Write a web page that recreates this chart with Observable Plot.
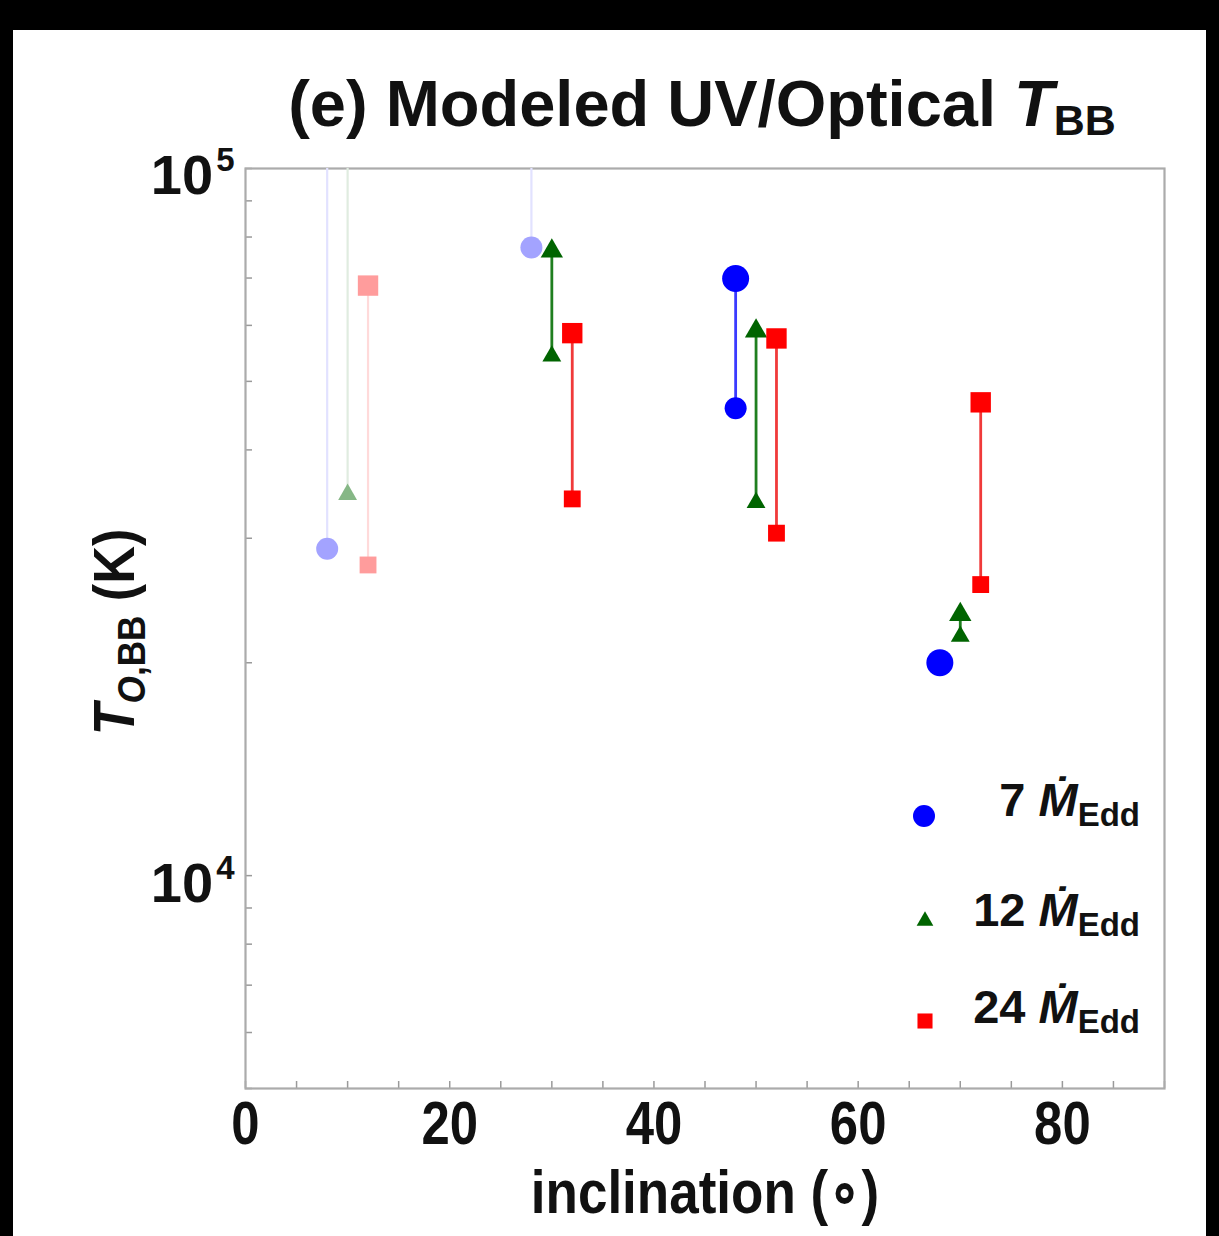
<!DOCTYPE html>
<html>
<head>
<meta charset="utf-8">
<script src="https://cdn.jsdelivr.net/npm/d3@7"></script>
<script src="https://cdn.jsdelivr.net/npm/@observablehq/plot@0.6"></script>
<style>
  html, body { margin: 0; padding: 0; background: #000; }
  body { width: 1219px; height: 1236px; overflow: hidden; position: relative;
         font-family: "Liberation Sans", Arial, Helvetica, sans-serif; }
  #panel { position: absolute; left: 13px; top: 30px; width: 1193px; height: 1206px; background: #fff; }
  #title { position: absolute; left: 689px; top: 41px; transform: translateX(-50%);
           white-space: nowrap; font-size: 65px; font-weight: bold; line-height: 65px; color: #111; }
  #title i { font-style: italic; }
  #title sub { font-size: 43px; vertical-align: -9px; line-height: 0; }
  #chart { position: absolute; left: 0; top: 90px; }
</style>
</head>
<body>
<div id="panel">
  <div id="title">(e) Modeled UV/Optical <i>T</i><sub>BB</sub></div>
  <div id="chart"></div>
</div>
<script>
// ---- axis ticks ----
const xMajor = [0, 20, 40, 60, 80];
const xMinor = [0, 5, 10, 15, 20, 25, 30, 35, 40, 45, 50, 55, 60, 65, 70, 75, 80, 85, 90];
const yDecades = [10000, 100000];
const yDecadeExp = ["4", "5"];
const yMinor = [5000, 6000, 7000, 8000, 9000, 10000, 20000, 30000, 40000, 50000,
                60000, 70000, 80000, 90000, 100000];
const xDomain = [0, 90];
const yDomain = [5000, 100000];

// ---- modeled T_BB (K) per accretion rate ----
// low / high ends of each model range; open = range continues above 10^5 K;
// faded = model drawn in a lighter shade
const incl7   = [8, 28, 48, 68];
const low7    = [29000, 77300, 45800, 20000];
const high7   = [null, null, 69900, 20000];
const open7   = [true, true, false, false];
const faded7  = [true, true, false, false];

const incl12  = [10, 30, 50, 70];
const low12   = [34600, 54300, 33700, 21800];
const high12  = [null, 76400, 58900, 23400];
const open12  = [true, false, false, false];
const faded12 = [true, false, false, false];

const incl24  = [12, 32, 52, 72];
const low24   = [27500, 34100, 30500, 25800];
const high24  = [68300, 58500, 57500, 46700];
const open24  = [false, false, false, false];
const faded24 = [true, false, false, false];

const seriesNames = ["7", "12", "24"];

// ---- styles ----
const styles = {
  "7":  {symbol: "circle",   color: "#0000ff", line: "#3b3bff", fadedFill: "#a3a3ff", fadedLine: "#e2e2ff", rLow: 11,  rHigh: 13.5},
  "12": {symbol: "triangle", color: "#006400", line: "#1f7f1f", fadedFill: "#86b786", fadedLine: "#e0ece0", rLow: 7,   rHigh: 8.3},
  "24": {symbol: "square",   color: "#ff0000", line: "#f03a3a", fadedFill: "#ff9c9c", fadedLine: "#ffdada", rLow: 9.5, rHigh: 11.5}
};

function build(key, incl, low, high, open, faded) {
  return incl.map((x, i) => ({key, incl: x, low: low[i], high: high[i], open: open[i], faded: faded[i]}));
}
const rows = [
  ...build("7", incl7, low7, high7, open7, faded7),
  ...build("12", incl12, low12, high12, open12, faded12),
  ...build("24", incl24, low24, high24, open24, faded24)
];

const W = 1193, H = 1116;
const mL = 232, mR = 42, mT = 48, mB = 148;
const frameW = W - mL - mR, frameH = H - mT - mB;
const FONT = "'Liberation Sans', Arial, Helvetica, sans-serif";

const marks = [];
// frame ticks (inward)
marks.push(Plot.tickX(xMinor, {x: d => d, insetTop: frameH - 7, stroke: "#9a9a9a", strokeWidth: 1.5}));
marks.push(Plot.tickY(yMinor, {y: d => d, insetRight: frameW - 7, stroke: "#9a9a9a", strokeWidth: 1.5}));
marks.push(Plot.frame({stroke: "#ababab", strokeWidth: 2.2}));

// range lines
for (const key of seriesNames) {
  const st = styles[key];
  const sr = rows.filter(d => d.key === key);
  const y2 = d => d.open ? yDomain[1] : (d.high ?? d.low);
  marks.push(Plot.ruleX(sr.filter(d => d.faded), {x: "incl", y1: "low", y2, stroke: st.fadedLine, strokeWidth: 2.2}));
  marks.push(Plot.ruleX(sr.filter(d => !d.faded), {x: "incl", y1: "low", y2, stroke: st.line, strokeWidth: 2.8}));
}
// markers
for (const key of seriesNames) {
  const st = styles[key];
  const sr = rows.filter(d => d.key === key);
  marks.push(Plot.dot(sr, {x: "incl", y: "low", symbol: st.symbol, r: st.rLow,
    fill: d => d.faded ? st.fadedFill : st.color, stroke: "none"}));
  marks.push(Plot.dot(sr.filter(d => d.high != null), {x: "incl", y: "high", symbol: st.symbol, r: st.rHigh,
    fill: d => d.faded ? st.fadedFill : st.color, stroke: "none"}));
}

// text marks, in this order: x ticks, y decade labels, x title
marks.push(Plot.text(xMajor, {x: d => d, frameAnchor: "bottom", dy: 55, text: d => String(d),
  fontSize: 62, fontWeight: "bold", fill: "#111"}));
marks.push(Plot.text(yDecades, {y: d => d, frameAnchor: "left", dx: -11, dy: 8, textAnchor: "end",
  text: () => "10", fontSize: 56, fontWeight: "bold", fill: "#111"}));
marks.push(Plot.text(["inclination (\u2218)"], {frameAnchor: "bottom", dy: 124, text: d => d,
  fontSize: 62, fontWeight: "bold", fill: "#111"}));

const svg = Plot.plot({
  width: W, height: H,
  marginLeft: mL, marginRight: mR, marginTop: mT, marginBottom: mB,
  x: {domain: xDomain, axis: null},
  y: {type: "log", domain: yDomain, axis: null},
  style: {fontFamily: FONT, background: "transparent", overflow: "visible"},
  marks
});
document.getElementById("chart").appendChild(svg);

const root = d3.select(svg);
const textGroups = root.selectAll("g[aria-label='text']").nodes();

// decade exponents as superscripts of the "10" labels
d3.select(textGroups[1]).selectAll("text").each(function(_, i) {
  d3.select(this).append("tspan").attr("dx", 3).attr("dy", -23).attr("font-size", 33).text(yDecadeExp[i]);
});

// narrow the glyphs of a text element horizontally
function squeeze(node, f) {
  const L = node.getComputedTextLength();
  node.setAttribute("textLength", (L * f).toFixed(1));
  node.setAttribute("lengthAdjust", "spacingAndGlyphs");
}
const squeezeBy = [0.82, 1, 0.855];
textGroups.forEach((g, i) => {
  const f = squeezeBy[i] ?? 1;
  if (f !== 1) d3.select(g).selectAll("text").each(function() { squeeze(this, f); });
});

// y axis title: T_{O,BB} (K)
const yl = root.append("text")
  .attr("transform", "translate(121,512) rotate(-90)")
  .attr("text-anchor", "middle")
  .attr("font-family", FONT).attr("font-weight", "bold").attr("font-size", 58).attr("fill", "#111");
yl.append("tspan").attr("font-style", "italic").text("T");
yl.append("tspan").attr("font-size", 39).attr("dy", 11).attr("font-style", "italic").text("O");
yl.append("tspan").attr("font-size", 39).text(",BB");
yl.append("tspan").attr("dy", -11).text(" (K)");
squeeze(yl.node(), 0.9);

// legend
const legendRows = [
  {key: "7",  label: "7",  cx: 911, cy: 696, base: 696},
  {key: "12", label: "12", cx: 912, cy: 801, base: 806},
  {key: "24", label: "24", cx: 912, cy: 901, base: 903}
];
const legendSize = {"7": 11, "12": 6.2, "24": 8.5};
const symMap = {circle: d3.symbolCircle, triangle: d3.symbolTriangle, square: d3.symbolSquare};
const lg = root.append("g");
for (const r of legendRows) {
  const st = styles[r.key];
  const rr = legendSize[r.key];
  lg.append("path")
    .attr("d", d3.symbol(symMap[st.symbol], Math.PI * rr * rr)())
    .attr("transform", `translate(${r.cx},${r.cy})`)
    .attr("fill", st.color);
  const t = lg.append("text")
    .attr("x", 1127).attr("y", r.base).attr("text-anchor", "end")
    .attr("font-family", FONT).attr("font-weight", "bold").attr("font-size", 47).attr("fill", "#111");
  t.append("tspan").text(r.label + " ");
  t.append("tspan").attr("font-style", "italic").text("\u1E40");
  t.append("tspan").attr("font-size", 33).attr("dy", 10).text("Edd");
}
</script>
</body>
</html>
